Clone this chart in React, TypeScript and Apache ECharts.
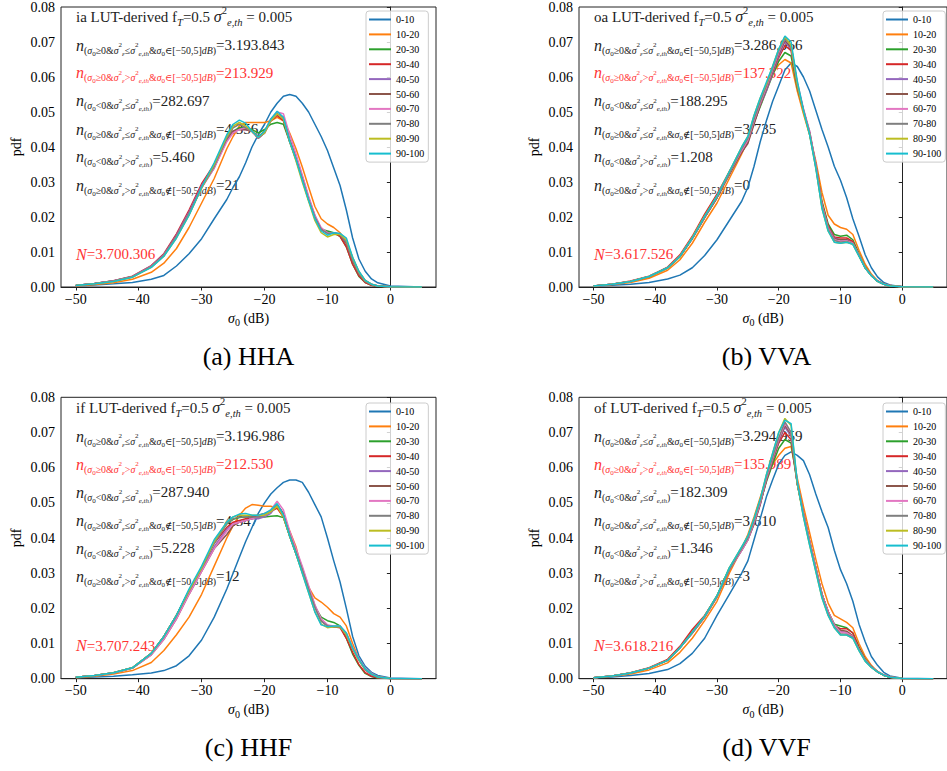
import React, { useEffect, useRef } from 'react';
import * as echarts from 'echarts';

// ---------- DATA ----------
const sigma0Db = [-50, -47, -44, -41, -38, -36, -34, -32, -30, -28, -26, -25, -24, -23, -22, -21, -20, -19, -18, -17, -16, -15, -14, -13, -12, -11, -10, -9, -8, -7, -6, -5, -4, -3, -2, 0, 5];
const binLabels = ['0-10', '10-20', '20-30', '30-40', '40-50', '50-60', '60-70', '70-80', '80-90', '90-100'];
const xTickValues = [-50, -40, -30, -20, -10, 0];

// pdf values in per-mille (pdf x 1000), one row per incidence-angle bin
const hhaPermille = [
  [0.3, 0.6, 0.9, 1.3, 2.2, 3.3, 6, 9.5, 13.8, 19.5, 25, 28.5, 31.5, 35.5, 40, 43.5, 46.5, 50, 52.5, 54.5, 55, 54.5, 52.5, 50, 46.5, 43, 39, 34, 29, 22, 14, 8, 4.5, 2.3, 1.2, 0.3, 0],
  [0.3, 0.7, 1.2, 2.2, 4.2, 6.8, 11, 17, 24, 31, 39.5, 43, 46, 47, 47, 47, 47, 47.5, 48.5, 47.5, 44, 39.5, 34.3, 28.6, 23, 19.5, 18, 17, 15.5, 13, 8.5, 4.3, 1.9, 0.8, 0.3, 0.05, 0],
  [0.4, 1.0, 1.7, 2.9, 5.9, 9.2, 14.8, 21.2, 28.8, 34.5, 42, 44.5, 45.5, 45.5, 45, 44, 45, 46.5, 47, 46.5, 41.5, 36.5, 31, 25, 20, 16.5, 16, 15.5, 14.5, 11.5, 6.5, 3, 1.3, 0.5, 0.2, 0.03, 0],
  [0.4, 1.0, 1.8, 3.1, 6.1, 9.5, 15.2, 22, 29.5, 35, 42.5, 44.5, 45, 45, 44.5, 42.5, 44, 47.5, 49, 47.5, 41.5, 36.5, 31, 25, 20, 16.5, 15.5, 15.5, 14.5, 11.5, 6.5, 3.2, 1.3, 0.5, 0.2, 0.03, 0],
  [0.4, 1.0, 1.8, 3.0, 6.0, 9.3, 14.8, 21.5, 29, 34.5, 42, 44.5, 45, 45, 44.5, 42.5, 44, 47.5, 49.5, 48.5, 42, 37, 31.5, 25.5, 20.5, 16.5, 15.5, 15.5, 15, 12.5, 7.5, 3.8, 1.6, 0.7, 0.3, 0.05, 0],
  [0.4, 1.0, 1.7, 2.9, 5.8, 9, 14.5, 21, 28.5, 34, 42, 44.5, 45, 45, 44.5, 43, 44.5, 48, 49.5, 48, 42, 37, 31.5, 25.5, 20, 16.5, 15.5, 15.5, 15, 12.5, 7.5, 3.8, 1.6, 0.7, 0.3, 0.05, 0],
  [0.4, 1.0, 1.7, 2.9, 5.8, 9, 14.3, 20.8, 28.3, 34, 41.5, 44, 45, 45.5, 44.5, 42.5, 44, 48, 50, 49.5, 43.5, 38, 32, 26, 20.5, 17, 15.5, 15.5, 15.2, 13, 8, 4.2, 1.8, 0.8, 0.3, 0.05, 0],
  [0.4, 1.0, 1.7, 2.9, 5.8, 9, 14.3, 20.8, 28.3, 34.5, 42.5, 45.5, 46.5, 45.5, 44.5, 42.5, 44, 47.5, 49.5, 48, 42, 36.5, 31, 25, 20, 16.5, 15.3, 15.5, 15, 12.8, 7.8, 4, 1.7, 0.7, 0.3, 0.05, 0],
  [0.4, 0.9, 1.6, 2.8, 5.6, 8.8, 14, 20.5, 28.3, 35, 43, 46, 47, 46, 44.5, 42.8, 44, 47.5, 49.5, 48, 41.5, 36, 30, 24.5, 19, 15.5, 14.3, 15, 15, 13.5, 8.3, 4.3, 1.8, 0.8, 0.3, 0.05, 0],
  [0.4, 0.9, 1.6, 2.8, 5.6, 8.8, 14, 20.5, 28.5, 35.5, 43.5, 46.5, 47.7, 46.8, 44.5, 42.8, 44.5, 48, 50.2, 48.5, 41.5, 36.5, 30.5, 24.8, 19.5, 16, 14.8, 15.5, 15.3, 14, 8.5, 4.5, 1.9, 0.8, 0.3, 0.05, 0],
];
const vvaPermille = [
  [0.3, 0.5, 0.8, 1.3, 2.3, 3.4, 5.5, 9, 13.5, 19, 24.5, 28.5, 34.5, 41.5, 47.5, 53, 57.5, 62, 64, 63, 60, 56, 50.5, 45, 40, 34.5, 30.5, 25.5, 19.5, 14.5, 9.2, 5.5, 2.9, 1.3, 0.6, 0.1, 0],
  [0.3, 0.7, 1.3, 2.5, 4.8, 7.8, 12.5, 18.5, 24, 31, 38, 42, 47.5, 52.5, 57, 61, 63.5, 65, 64, 56, 49.5, 43.5, 36, 27, 20.5, 18, 17, 16.5, 15, 10.5, 6.5, 3.7, 1.8, 0.9, 0.4, 0.05, 0],
  [0.3, 0.8, 1.6, 2.9, 5.4, 8.6, 13.8, 19.8, 25.5, 32.5, 39, 42, 47, 51.5, 56, 60.5, 64.5, 67, 66, 57, 50.5, 44, 35, 24.5, 18, 15, 14.5, 14.8, 13.5, 9.5, 5.8, 3.3, 1.6, 0.8, 0.3, 0.05, 0],
  [0.3, 0.8, 1.7, 3.1, 5.7, 9.2, 14.5, 20.8, 26.5, 33, 38.5, 41.5, 47, 52, 56.5, 61, 65.5, 69, 67.5, 57.5, 50.5, 44, 35, 24, 17.5, 14.3, 14, 14, 13, 9.2, 5.5, 3.2, 1.6, 0.8, 0.3, 0.05, 0],
  [0.3, 0.8, 1.6, 3.0, 5.5, 8.8, 14, 20, 25.5, 32.5, 39, 42, 47.5, 52, 56, 61, 66, 70, 68, 57.5, 50.5, 44.5, 35, 23.5, 17, 14, 13.5, 13.5, 12.5, 9, 5.5, 3.3, 1.7, 0.9, 0.4, 0.05, 0],
  [0.3, 0.8, 1.6, 3.0, 5.5, 8.7, 13.8, 19.8, 25.5, 32, 38.5, 41, 46.5, 52, 56.5, 61.5, 66.5, 70.5, 68.5, 58, 50.5, 44, 34.5, 23.5, 16.8, 13.8, 13.5, 13.5, 12.5, 9, 5.5, 3.3, 1.7, 0.9, 0.4, 0.05, 0],
  [0.3, 0.8, 1.6, 3.0, 5.5, 8.8, 14, 20, 25.8, 32.5, 39, 42, 47.5, 52.5, 57, 62, 67, 71, 69, 58.5, 51, 44.5, 35, 23.5, 16.8, 13.5, 13, 13.2, 12.5, 9.2, 5.6, 3.4, 1.7, 0.9, 0.4, 0.05, 0],
  [0.3, 0.8, 1.6, 3.0, 5.5, 8.8, 14, 20, 25.8, 32.5, 39.5, 42.5, 48, 53, 57.5, 62.5, 67.5, 71, 69, 58, 50.5, 44, 34.5, 23, 16.5, 13.3, 12.8, 13, 12.3, 9, 5.5, 3.3, 1.7, 0.9, 0.4, 0.05, 0],
  [0.3, 0.8, 1.6, 3.0, 5.5, 8.8, 14.2, 20.3, 26, 33, 40, 43, 49, 54, 58, 63, 68, 71.5, 69, 58, 50, 43.5, 34, 22.5, 16, 12.8, 12.5, 12.8, 12.2, 8.8, 5.4, 3.2, 1.6, 0.8, 0.3, 0.05, 0],
  [0.3, 0.8, 1.6, 3.0, 5.5, 8.8, 14, 20.2, 26, 33, 40, 43, 49, 54, 58.5, 63, 68, 71.7, 70, 58.9, 50.5, 43.5, 34, 22.5, 16, 12.8, 12.5, 12.8, 12.2, 8.8, 5.4, 3.2, 1.6, 0.8, 0.3, 0.05, 0],
];
const hhfPermille = [
  [0.3, 0.45, 0.7, 1.1, 1.6, 2.3, 3.7, 6.5, 11, 17.5, 25.5, 30, 34.5, 39, 43, 47, 50, 52.5, 54.3, 55.8, 56.5, 56.5, 55.8, 53, 49.5, 46, 40, 33.5, 27.5, 20, 12, 6.5, 3.5, 1.8, 0.9, 0.2, 0],
  [0.3, 0.7, 1.3, 2.3, 4.6, 8, 12.5, 17.5, 24, 32, 40, 43.5, 46.5, 48.5, 49.5, 49.3, 49, 49, 48.5, 46, 42, 37.5, 30.5, 26, 23, 21.8, 20.3, 18.5, 17.5, 15, 10, 5.5, 2.5, 1.1, 0.4, 0.05, 0],
  [0.4, 0.9, 1.7, 3.1, 7.2, 12, 18, 25, 31.5, 39, 44, 45.3, 45.8, 46, 46, 46, 46, 46.2, 46.3, 45.8, 40.5, 35.5, 30.5, 25, 20.5, 17.5, 16.5, 16, 15, 11.5, 7, 3.8, 1.5, 0.6, 0.2, 0.03, 0],
  [0.4, 0.9, 1.7, 3.1, 7.2, 12, 18, 25, 31.5, 38.5, 43, 44.5, 45, 45.5, 46, 46.5, 47, 47.5, 48.5, 46, 40.5, 35.5, 30.5, 25.5, 20.5, 16.5, 15, 14.8, 14.5, 11.5, 7.5, 4, 1.7, 0.7, 0.3, 0.03, 0],
  [0.4, 0.9, 1.6, 3.0, 7, 11.5, 17.5, 24.5, 31, 37.5, 42.5, 44, 44.5, 45, 45.5, 45.5, 46, 47, 49.5, 47, 41, 36, 31, 25.8, 20.5, 16.5, 15, 14.8, 14.8, 12.5, 8.6, 5.2, 2.5, 1.1, 0.4, 0.05, 0],
  [0.4, 0.9, 1.6, 3.0, 6.8, 11.2, 17, 24, 30.5, 37, 41, 43.5, 44.5, 45, 45.5, 46, 46.5, 47.5, 49.5, 47, 41.5, 36.5, 31.5, 26, 20.8, 16.8, 15.2, 14.8, 14.8, 12.8, 8.8, 5.5, 2.8, 1.3, 0.5, 0.05, 0],
  [0.4, 0.9, 1.6, 3.0, 6.8, 11.2, 17, 24, 30.5, 37, 42, 44, 44.5, 45, 45.5, 46, 46.5, 48, 50.5, 48, 42, 37, 32, 26.5, 21, 17, 15.3, 15, 15, 13, 9, 5.7, 3, 1.5, 0.6, 0.05, 0],
  [0.4, 0.9, 1.7, 3.1, 7.2, 12, 18, 25, 31.5, 38.5, 44, 45.5, 46, 46, 46, 46, 46.5, 47.5, 49.5, 46.5, 41, 36, 31, 25.5, 20.3, 16.3, 15, 14.8, 14.8, 12.5, 8.5, 5.3, 2.7, 1.3, 0.5, 0.05, 0],
  [0.4, 0.9, 1.7, 3.1, 7.2, 12, 18, 25, 31.5, 39, 44.5, 46, 46.5, 46.5, 46.5, 46.5, 46.5, 47.5, 49, 46, 40.5, 35.5, 30, 24.5, 19, 15.5, 14.5, 14.8, 14.8, 12.5, 8.5, 5.3, 2.7, 1.3, 0.5, 0.05, 0],
  [0.4, 0.9, 1.7, 3.1, 7.2, 12, 18, 25.5, 32, 39.5, 44.5, 46, 46.8, 47, 46.5, 46.5, 47, 48, 49.8, 46.5, 40.5, 35.5, 30, 24.5, 19, 15.3, 14.8, 15, 15, 13, 8.7, 5.5, 2.8, 1.3, 0.5, 0.05, 0],
];
const vvfPermille = [
  [0.3, 0.5, 0.9, 1.5, 2.6, 4.3, 7.2, 11.5, 18, 24, 30, 33.5, 39.5, 45.5, 51.7, 56.5, 61, 63.5, 64.5, 63.5, 62, 58, 52.5, 47.5, 43, 36.5, 31, 27, 22, 15.5, 10.5, 6.3, 3.8, 1.8, 0.8, 0.1, 0],
  [0.3, 0.7, 1.3, 2.5, 4.5, 7.5, 11.5, 16.5, 22, 30, 37, 41, 46, 51.5, 57, 61, 63.5, 65.5, 66, 57, 49, 41.5, 34, 27, 21.5, 18, 17, 16, 14.5, 10, 6.3, 3.8, 2, 1, 0.4, 0.05, 0],
  [0.3, 0.8, 1.6, 3, 5.3, 8.9, 13.2, 17.8, 23.6, 31.5, 37, 40, 44.5, 50, 56, 61, 65.5, 68, 67, 55.5, 47, 39, 31.5, 24, 19, 15.5, 15, 14.5, 13, 9, 5.6, 3.5, 2, 1, 0.4, 0.05, 0],
  [0.3, 0.8, 1.7, 3.1, 5.5, 9.2, 14, 18, 23.5, 31, 37, 40, 44.5, 50, 56.5, 62, 67, 70, 68, 55.5, 47, 39, 31.5, 24, 19, 15, 14.2, 14.2, 13, 8.8, 5.4, 3.4, 1.9, 1, 0.4, 0.05, 0],
  [0.3, 0.8, 1.6, 3, 5.2, 8.8, 13, 17.5, 23.3, 31, 36.5, 39.5, 44, 49.5, 56.5, 62, 67.5, 71.5, 69, 55.5, 47, 39, 31.5, 24, 19, 15.3, 13.5, 13, 12, 8.3, 5.3, 3.4, 2, 1.1, 0.5, 0.05, 0],
  [0.3, 0.8, 1.6, 3, 5.2, 8.8, 13, 17.5, 23.3, 31, 36.5, 39.5, 44, 49.5, 56.5, 62, 67.5, 72, 69.5, 55.5, 47, 39, 31.5, 24, 19, 15.3, 13.8, 13.5, 12.2, 8.3, 5.3, 3.4, 2, 1.1, 0.5, 0.05, 0],
  [0.3, 0.8, 1.6, 3, 5.2, 8.8, 13, 17.5, 23.3, 31, 36.5, 39.5, 44.5, 50, 57, 62.5, 68, 72.5, 70, 56, 47, 39, 31.5, 24, 19, 15.3, 13.3, 13, 12, 8.3, 5.3, 3.4, 2, 1.1, 0.5, 0.05, 0],
  [0.3, 0.8, 1.6, 3, 5.2, 8.8, 13, 17.5, 23.3, 31, 37, 40, 45, 50.5, 57.5, 63, 68.5, 73, 70, 55.5, 46.5, 38.5, 31, 23.5, 18.5, 14.8, 12.8, 12.6, 11.8, 8.2, 5.2, 3.3, 1.9, 1, 0.4, 0.05, 0],
  [0.3, 0.8, 1.6, 3, 5.2, 8.8, 13.2, 17.8, 23.6, 31.5, 37.5, 40.5, 45.5, 51, 58, 64, 70, 74, 72, 55.5, 46, 38, 30.5, 23, 18, 14.5, 12.4, 12.4, 11.5, 8, 5, 3.2, 1.9, 1, 0.4, 0.05, 0],
  [0.3, 0.8, 1.6, 3, 5.2, 8.8, 13.2, 17.8, 23.6, 31.5, 37.5, 40.5, 45.5, 51, 58, 64, 70, 73.5, 72.5, 56, 46, 38, 30.5, 23, 18, 14.5, 12.4, 12.4, 11.5, 8, 5, 3.2, 1.9, 1, 0.4, 0.05, 0],
];

const panelTags = ['ia', 'oa', 'if', 'of'];
const captions = ['(a) HHA', '(b) VVA', '(c) HHF', '(d) VVF'];
const nInRangeLow = ['3.193.843', '3.286.966', '3.196.986', '3.294.959'];
const nInRangeHigh = ['213.929', '137.322', '212.530', '135.989'];
const nNegLow = ['282.697', '188.295', '287.940', '182.309'];
const nOutRangeLow = ['4.356', '3.735', '4.547', '3.610'];
const nNegHigh = ['5.460', '1.208', '5.228', '1.346'];
const nOutRangeHigh = ['21', '0', '12', '3'];
const nTotal = ['3.700.306', '3.617.526', '3.707.243', '3.618.216'];

// ---------- STYLE / LAYOUT ----------
const COLORS = ['#1f77b4', '#ff7f0e', '#2ca02c', '#d62728', '#9467bd', '#8c564b', '#e377c2', '#7f7f7f', '#bcbd22', '#17becf'];
const F = "'Liberation Serif', 'DejaVu Serif', serif";
const INK = '#222';
const RED = '#ff3333';
const PANELS = [
  { l: 61, t: 6, h: 281 },
  { l: 579, t: 6, h: 281 },
  { l: 61, t: 397.3, h: 281.4 },
  { l: 579, t: 397.3, h: 281.4 },
];
const PW = 375;
const LH = 20;

function makeRich() {
  const base = (fs: number, extra: any = {}) => ({ fontFamily: F, fontSize: fs, lineHeight: LH, ...extra });
  return {
    m: base(15),
    mi: base(16, { fontStyle: 'italic' }),
    s: base(9.9, { height: 10, verticalAlign: 'bottom' }),
    si: base(9.9, { fontStyle: 'italic', height: 10, verticalAlign: 'bottom' }),
    ss: base(7, { height: 3, verticalAlign: 'bottom' }),
    ssi: base(7, { fontStyle: 'italic', height: 3, verticalAlign: 'bottom' }),
    su: base(7),
    tsup: base(10.5, { height: 8, verticalAlign: 'top' }),
    tsub: base(10.5, { fontStyle: 'italic', height: 9, verticalAlign: 'bottom' }),
  };
}

function condText(ge: boolean, cmp: string, range: string) {
  let t = '{s|(}{si|σ}{ss|0}{s|' + (ge ? '≥0&' : '<0&') + '}{si|σ}{su|2}{ssi|ε}{s|' + cmp + '}{si|σ}{su|2}{ssi|e,th}';
  if (range) t += '{s|&}{si|σ}{ss|0}{s|' + range + '[−50,5]}{si|dB}';
  t += '{s|)}';
  return t;
}

const ROW_CONDS: [boolean, string, string][] = [
  [true, '≤', '∈'],
  [true, '>', '∈'],
  [false, '≤', ''],
  [true, '≤', '∉'],
  [false, '>', ''],
  [true, '>', '∉'],
];
const ROW_Y = [39, 66.7, 94.8, 123.3, 150.8, 179];

export default function App() {
  const ref = useRef<HTMLDivElement>(null);
  useEffect(() => {
    if (!ref.current) return;
    const chart = echarts.init(ref.current, undefined, { renderer: 'svg' });
    const datasets = [hhaPermille, vvaPermille, hhfPermille, vvfPermille];
    const rowValues = [nInRangeLow, nInRangeHigh, nNegLow, nOutRangeLow, nNegHigh, nOutRangeHigh];

    const grid: any[] = [];
    const xAxis: any[] = [];
    const yAxis: any[] = [];
    const series: any[] = [];
    const legend: any[] = [];
    const graphic: any[] = [];

    PANELS.forEach((p, k) => {
      grid.push({ left: p.l, top: p.t, width: PW, height: p.h, show: true, borderColor: INK, borderWidth: 1, backgroundColor: 'transparent' });
      xAxis.push({
        type: 'value', gridIndex: k, min: -52.35, max: 7.25,
        axisLine: { show: true, onZero: false, lineStyle: { color: INK, width: 1 } },
        axisTick: { show: true, inside: false, length: 3.5, customValues: xTickValues, lineStyle: { color: INK } },
        axisLabel: {
          customValues: xTickValues, margin: 5, color: '#000', fontFamily: F, fontSize: 14,
          formatter: (v: number) => String(v).replace('-', '−'),
        },
        splitLine: { show: false },
        name: '{i|σ}{b|0}{r| (dB)}', nameLocation: 'middle', nameGap: 22,
        nameTextStyle: {
          color: '#000',
          rich: {
            i: { fontFamily: F, fontSize: 14, fontStyle: 'italic', lineHeight: 18 },
            b: { fontFamily: F, fontSize: 10, lineHeight: 18, height: 9, verticalAlign: 'bottom' },
            r: { fontFamily: F, fontSize: 14, lineHeight: 18 },
          },
        },
      });
      yAxis.push({
        type: 'value', gridIndex: k, min: 0, max: 0.08, interval: 0.01,
        axisLine: { show: true, lineStyle: { color: INK, width: 1 } },
        axisTick: { show: true, inside: false, length: 3.5, lineStyle: { color: INK } },
        axisLabel: { margin: 6, color: '#000', fontFamily: F, fontSize: 14, formatter: (v: number) => v.toFixed(2) },
        splitLine: { show: false },
        name: 'pdf', nameLocation: 'middle', nameGap: 38, nameRotate: 90,
        nameTextStyle: { color: '#000', fontFamily: F, fontSize: 14 },
      });
      datasets[k].forEach((vals, i) => {
        series.push({
          type: 'line', name: binLabels[i], xAxisIndex: k, yAxisIndex: k,
          data: sigma0Db.map((x, j) => [x, vals[j] / 1000]),
          symbol: 'none', showSymbol: false, smooth: false, clip: true,
          lineStyle: { width: 1.5, color: COLORS[i] }, itemStyle: { color: COLORS[i] },
          emphasis: { disabled: true }, z: 3,
        });
      });
      const legLeft = k % 2 === 0 ? 366 : 883;
      const legTop = k < 2 ? 11 : 403;
      legend.push({
        data: binLabels, orient: 'vertical', left: legLeft, top: legTop,
        icon: 'rect', itemWidth: 22, itemHeight: 2, itemGap: 2.9, selectedMode: false,
        padding: [2.5, 4, 2.5, 3],
        borderColor: '#cccccc', borderWidth: 1, borderRadius: 3, backgroundColor: 'rgba(255,255,255,0.8)',
        textStyle: { fontFamily: F, fontSize: 10, lineHeight: 12, color: '#000' },
      });

      const tx = p.l + 15;
      graphic.push({
        type: 'text', x: tx, y: p.t + 10.6 - LH / 2, z: 1,
        style: {
          text: '{m|' + panelTags[k] + ' LUT-derived f}{tsub|T}{m|=0.5 }{mi|σ}{tsup|2}{tsub|e,th}{m| = 0.005}',
          rich: makeRich(), fill: INK, align: 'left', verticalAlign: 'top',
        },
      });
      ROW_CONDS.forEach((c, r) => {
        graphic.push({
          type: 'text', x: tx, y: p.t + ROW_Y[r] - LH / 2, z: 1,
          style: {
            text: '{mi|n}' + condText(c[0], c[1], c[2]) + '{m|=' + rowValues[r][k] + '}',
            rich: makeRich(), fill: r === 1 ? RED : INK, align: 'left', verticalAlign: 'top',
          },
        });
      });
      graphic.push({
        type: 'text', x: tx, y: p.t + 248.3 - LH / 2, z: 1,
        style: { text: '{mi|N}{m|=' + nTotal[k] + '}', rich: makeRich(), fill: RED, align: 'left', verticalAlign: 'top' },
      });
      graphic.push({
        type: 'text', x: p.l + PW / 2, y: k < 2 ? 356 : 747, z: 1,
        style: { text: captions[k], fontFamily: F, fontSize: 26, fill: '#000', align: 'center', verticalAlign: 'middle' },
      });
    });

    chart.setOption({
      animation: false,
      backgroundColor: '#ffffff',
      grid, xAxis, yAxis, series, legend, graphic,
    });
    return () => chart.dispose();
  }, []);
  return <div ref={ref} style={{ position: 'fixed', left: 0, top: 0, width: 947, height: 771, background: '#fff' }} />;
}
